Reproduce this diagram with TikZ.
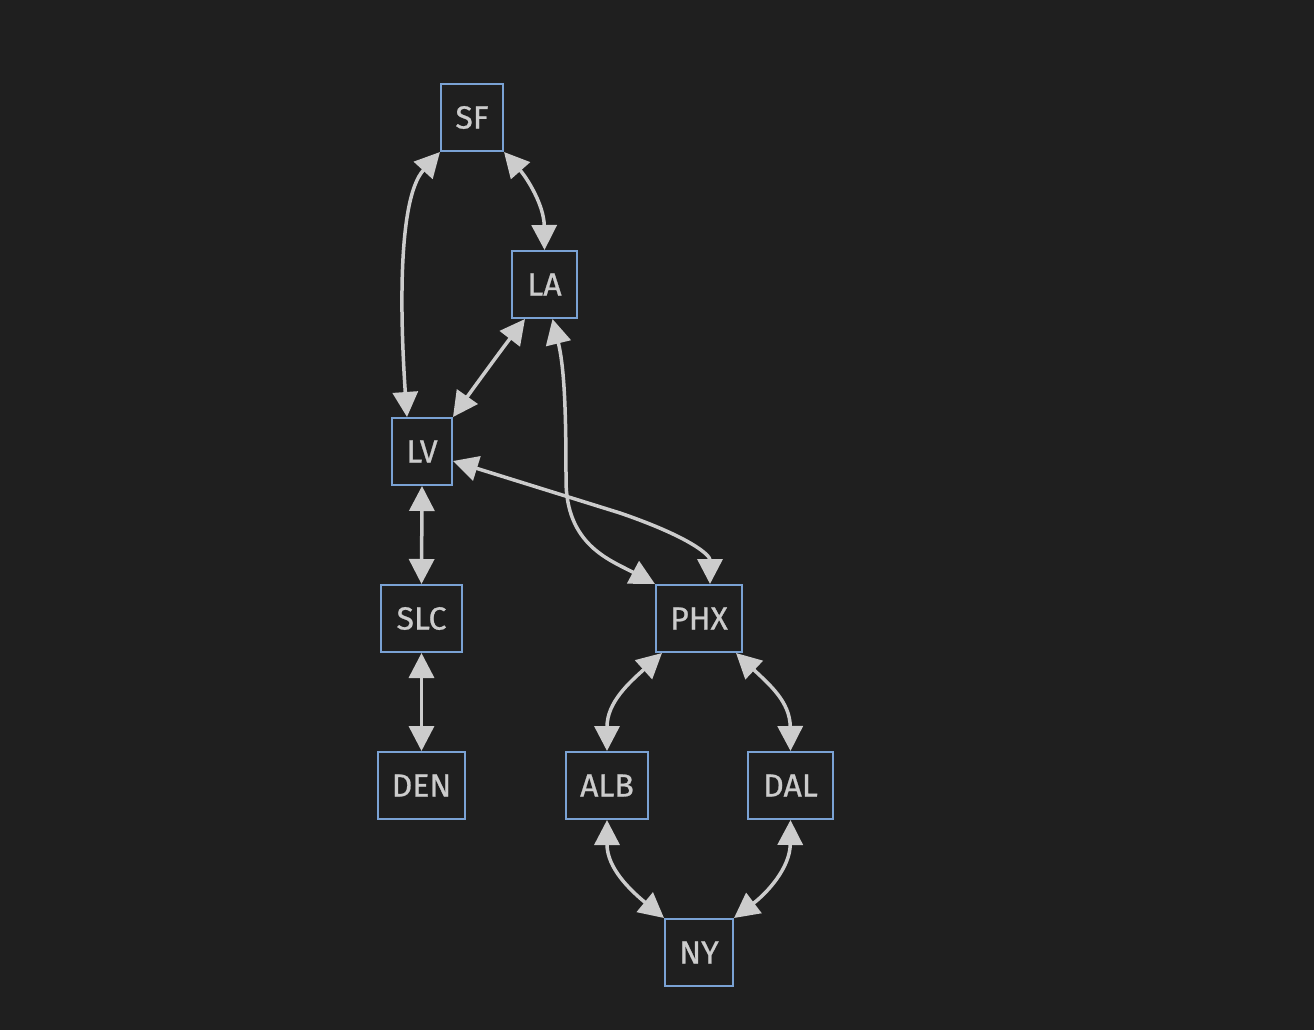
\documentclass[tikz,border=0pt]{standalone}
\usepackage{fontspec}
\setmainfont{Fira Sans}
\newfontfamily\labelfont{Fira Sans}[FakeBold=0.8]
\usetikzlibrary{arrows.meta}
\definecolor{bg}{HTML}{1F1F1F}
\definecolor{boxline}{HTML}{7AA2D4}
\definecolor{ink}{HTML}{CCCCCC}
\tikzset{
  city/.style={draw=boxline, line width=2pt, fill=bg, text=ink, minimum height=67pt, inner sep=0pt, font=\labelfont\fontsize{32}{32}\selectfont},
  edge/.style={draw=ink, line width=3.5pt, {Triangle[length=25pt,width=25pt]}-{Triangle[length=25pt,width=25pt]}}
}
\begin{document}
\begin{tikzpicture}[x=1pt,y=-1pt]
\path[fill=bg] (0,0) rectangle (1314,1030);
\node[city, minimum width=62pt] (SF) at (472,117.5) {SF};
\node[city, minimum width=65pt] (LA) at (544.5,284.5) {LA};
\node[city, minimum width=60pt] (LV) at (422,451.5) {LV};
\node[city, minimum width=81pt] (SLC) at (421.5,618.5) {SLC};
\node[city, minimum width=87pt] (DEN) at (421.5,785.5) {DEN};
\node[city, minimum width=86pt] (PHX) at (699,618.5) {PHX};
\node[city, minimum width=82pt] (ALB) at (607,785.5) {ALB};
\node[city, minimum width=85pt] (DAL) at (790.5,785.5) {DAL};
\node[city, minimum width=68pt] (NY) at (699,952.5) {NY};

\draw[edge] ([xshift=-15pt]LV.north) .. controls (401,330) and (396,200) .. (SF.south west);
\draw[edge] (SF.south east) .. controls (527,178) and (544,205) .. (LA.north);
\draw[edge] ([xshift=-19.5pt]LA.south) .. controls (505,345) and (472,390) .. (LV.north east);
\draw[edge] ([xshift=8pt]LA.south) .. controls (565,370) and (566,420) .. (566,480) .. controls (566,545) and (610,560) .. (PHX.north west);
\draw[edge] ([yshift=-9.5pt]LV.east) -- (620,513) .. controls (690,537) and (710,555) .. ([xshift=11pt]PHX.north);
\draw[edge] (LV.south) -- (SLC.north);
\draw[edge] (SLC.south) -- (DEN.north);
\draw[edge] ([xshift=-37pt]PHX.south) .. controls (630,682) and (607,702) .. (ALB.north);
\draw[edge] ([xshift=37pt]PHX.south) .. controls (770,685) and (790,702) .. (DAL.north);
\draw[edge] (ALB.south) .. controls (607,868) and (630,890) .. (NY.north west);
\draw[edge] (DAL.south) .. controls (790,868) and (767,893) .. (NY.north east);
\end{tikzpicture}
\end{document}
